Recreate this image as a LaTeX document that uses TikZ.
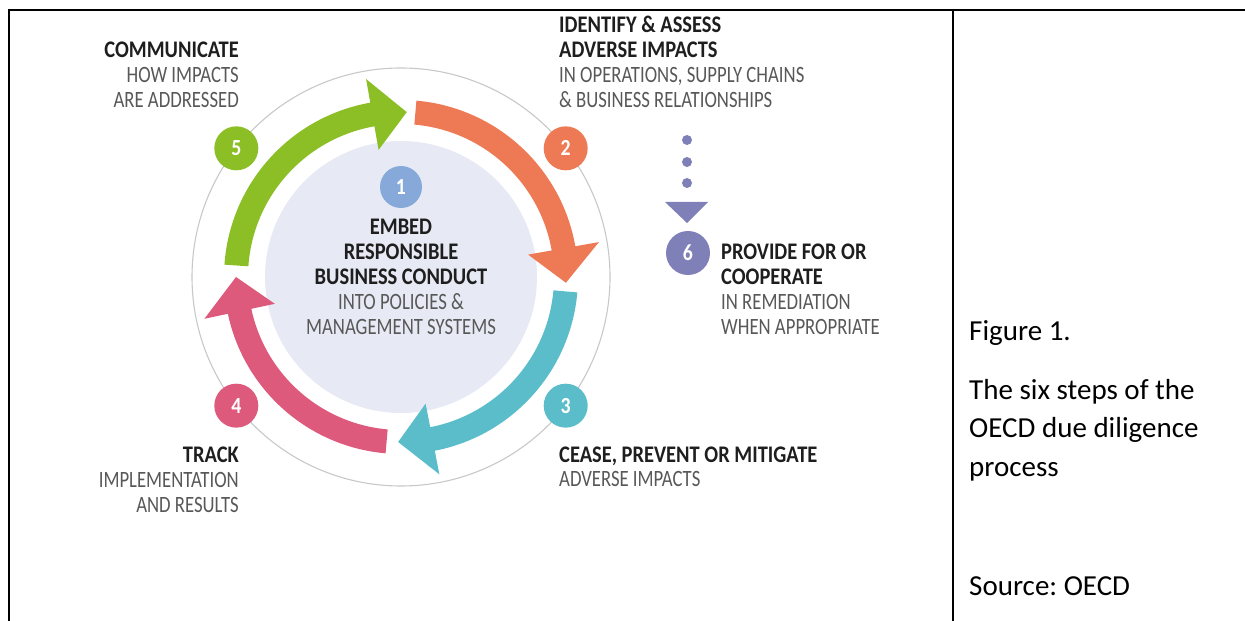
\documentclass[tikz,border=0pt]{standalone}
\usepackage{fontspec}
\setmainfont{Carlito}
\newfontfamily\diaghd[FakeStretch=0.86]{Carlito}
\newfontfamily\diagsub[FakeStretch=0.80]{Carlito}
\definecolor{cgreen}{HTML}{8CBF26}
\definecolor{corange}{HTML}{EE7A55}
\definecolor{cteal}{HTML}{5CBDCA}
\definecolor{cpink}{HTML}{DE5A7C}
\definecolor{cblue}{HTML}{86A9DA}
\definecolor{cpurple}{HTML}{7F80B7}
\definecolor{cinner}{HTML}{E7EAF5}
\definecolor{couter}{HTML}{C8C8C8}
\definecolor{chead}{HTML}{1E1E1E}
\definecolor{csub}{HTML}{585858}
\newcommand\ringarrow[4]{%
  \fill[#1] (#2:177) arc[start angle=#2, end angle=#3, radius=177]
    -- (#3:201) -- (#4:165) -- (#3:129) -- (#3:153)
    arc[start angle=#3, end angle=#2, radius=153] -- cycle;}
\frenchspacing
\begin{document}
\begin{tikzpicture}[x=1pt,y=1pt]
\useasboundingbox (0,0) rectangle (1245,621);
\tikzset{
 frame/.style={line width=1.6pt, black},
 hd/.style={font=\diaghd\fontsize{23.8}{25}\selectfont\bfseries, text=chead, inner sep=0pt},
 sub/.style={font=\diagsub\fontsize{23.4}{25}\selectfont, text=csub, inner sep=0pt},
 num/.style={circle, minimum size=44pt, inner sep=0pt, text=white, font=\diaghd\fontsize{23}{24}\selectfont\bfseries},
 captext/.style={font=\fontsize{29}{35}\selectfont, text=black, inner sep=0pt, anchor=base west},
}
% table frame
\draw[frame] (9,0) -- (9,611) -- (1245,611);
\draw[frame] (953,0) -- (953,611);

\begin{scope}[shift={(401,344)}]
  \fill[cinner] (0,0) circle[radius=136];
  \draw[couter, line width=1.1pt] (0,0) circle[radius=209];
  \ringarrow{cgreen}{176}{100}{88}
  \ringarrow{corange}{85}{10}{-2}
  \ringarrow{cteal}{-5}{-79}{-91}
  \ringarrow{cpink}{265}{192}{180}
  \node[num, fill=cgreen]  (n5) at (142:209) {5};
  \node[num, fill=corange] (n2) at (38:209) {2};
  \node[num, fill=cteal]   (n3) at (-38:209) {3};
  \node[num, fill=cpink]   (n4) at (-142:209) {4};
  \node[num, fill=cblue, minimum size=42pt] (n1) at (0,90) {1};
\end{scope}

% step 6 with dotted arrow
\node[num, fill=cpurple] (n6) at (688,368) {6};
\fill[cpurple] (687,481) circle[radius=5];
\fill[cpurple] (687,459) circle[radius=5];
\fill[cpurple] (687,438) circle[radius=5];
\coordinate (tri) at (687,398);
\fill[cpurple] (665,419) -- (708,419) -- (tri) -- cycle;

% centre text
\node[hd, anchor=base] (c1) at (401,386) {EMBED};
\node[hd, anchor=base] (c2) at (401,361) {RESPONSIBLE};
\node[hd, anchor=base] (c3) at (401,336) {BUSINESS CONDUCT};
\node[sub, anchor=base] (c4) at (401,311) {INTO POLICIES \&};
\node[sub, anchor=base] (c5) at (401,286) {MANAGEMENT SYSTEMS};

% step 5 text
\node[hd, anchor=base east] (t5a) at (239,563) {COMMUNICATE};
\node[sub, anchor=base east] (t5b) at (239,538) {HOW IMPACTS};
\node[sub, anchor=base east] (t5c) at (239,513) {ARE ADDRESSED};

% step 2 text
\node[hd, anchor=base west] (t2a) at (559,588) {IDENTIFY \& ASSESS};
\node[hd, anchor=base west] (t2b) at (559,563) {ADVERSE IMPACTS};
\node[sub, anchor=base west] (t2c) at (559,538) {IN OPERATIONS, SUPPLY CHAINS};
\node[sub, anchor=base west] (t2d) at (559,513) {\& BUSINESS RELATIONSHIPS};

% step 6 text
\node[hd, anchor=base west] (t6a) at (721,361) {PROVIDE FOR OR};
\node[hd, anchor=base west] (t6b) at (721,336) {COOPERATE};
\node[sub, anchor=base west] (t6c) at (721,311) {IN REMEDIATION};
\node[sub, anchor=base west] (t6d) at (721,286) {WHEN APPROPRIATE};

% step 3 text
\node[hd, anchor=base west] (t3a) at (559,158) {CEASE, PREVENT OR MITIGATE};
\node[sub, anchor=base west] (t3b) at (559,134) {ADVERSE IMPACTS};

% step 4 text
\node[hd, anchor=base east] (t4a) at (239,158) {TRACK};
\node[sub, anchor=base east] (t4b) at (239,133) {IMPLEMENTATION};
\node[sub, anchor=base east] (t4c) at (239,108) {AND RESULTS};

% caption
\node[captext] (f1) at (969,280) {Figure 1.};
\node[captext] (f2) at (969,221) {The six steps of the};
\node[captext] (f3) at (969,183) {OECD due diligence};
\node[captext] (f4) at (969,144) {process};
\node[captext] (f5) at (969,25) {Source: OECD};
\end{tikzpicture}
\end{document}
